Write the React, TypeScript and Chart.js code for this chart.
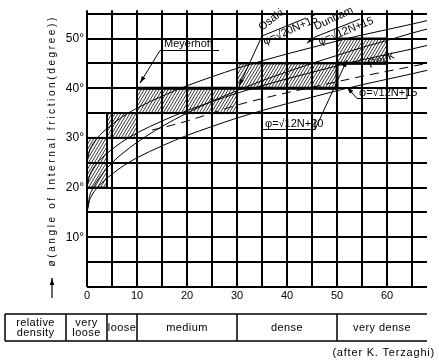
import React, { useEffect, useRef } from "react";
import { Chart, registerables } from "chart.js";

Chart.register(...registerables);

// ---- data ----
const N_SAMPLES = [0, 0.5, 1, 2, 3, 5, 7, 10, 15, 20, 25, 30, 35, 40, 45, 50, 55, 60, 65, 68];
const OSAKI_PHI = [15, 18.2, 19.5, 21.3, 22.7, 25.0, 26.8, 29.1, 32.3, 35.0, 37.4, 39.5, 41.5, 43.3, 45.0, 46.6, 48.2, 49.6, 51.1, 51.9];
const DUNHAM25_PHI = [25, 27.4, 28.5, 29.9, 31.0, 32.7, 34.2, 36.0, 38.4, 40.5, 42.3, 44.0, 45.5, 46.9, 48.2, 49.5, 50.7, 51.8, 52.9, 53.6];
const DUNHAM20_PHI = [20, 22.4, 23.5, 24.9, 26.0, 27.7, 29.2, 31.0, 33.4, 35.5, 37.3, 39.0, 40.5, 41.9, 43.2, 44.5, 45.7, 46.8, 47.9, 48.6];
const DUNHAM15_PHI = [15, 17.4, 18.5, 19.9, 21.0, 22.7, 24.2, 26.0, 28.4, 30.5, 32.3, 34.0, 35.5, 36.9, 38.2, 39.5, 40.7, 41.8, 42.9, 43.6];
const PECK_N = [13, 16, 20, 25, 30, 35, 40, 45, 50, 55, 60, 65, 68];
const PECK_PHI = [31.6, 32.3, 33.4, 35.0, 36.6, 37.9, 39.1, 40.2, 41.3, 42.4, 43.4, 44.4, 45.0];

const MEYERHOF_N_FROM = [0, 4, 10, 30, 50];
const MEYERHOF_N_TO = [4, 10, 30, 50, 60];
const MEYERHOF_PHI_LOW = [20, 30, 35, 40, 45];
const MEYERHOF_PHI_HIGH = [30, 35, 40, 45, 50];
const MEYERHOF_STEP_N = [10, 50, 50, 60];
const MEYERHOF_STEP_PHI = [40, 40, 45, 45];

const X_LABELED_TICKS = [0, 10, 20, 30, 40, 50, 60];
const Y_LABELED_TICKS = [10, 20, 30, 40, 50];

const DENSITY_HEADER = ["relative", "density"];
const DENSITY_LABELS = [["very", "loose"], ["loose"], ["medium"], ["dense"], ["very dense"]];
const DENSITY_BOUNDS = [4, 10, 30, 50];

const Y_TITLE = "ø(angle of Internal friction(degree))";
const SOURCE_NOTE = "(after K. Terzaghi)";

const FONT = "'Liberation Sans', 'DejaVu Sans', sans-serif";

const pts = (xs: number[], ys: number[]) => xs.map((x, i) => ({ x, y: ys[i] }));

function makeHatch(ctx: CanvasRenderingContext2D) {
  const w = 3, h = 5;
  const c = document.createElement("canvas");
  c.width = w;
  c.height = h;
  const g = c.getContext("2d")!;
  g.strokeStyle = "#000";
  g.lineWidth = 0.8;
  g.beginPath();
  for (let k = -1; k <= 1; k++) {
    g.moveTo(k * w, h);
    g.lineTo(k * w + w, 0);
  }
  g.stroke();
  return ctx.createPattern(c, "repeat");
}

function arrow(ctx: CanvasRenderingContext2D, x0: number, y0: number, x1: number, y1: number) {
  ctx.beginPath();
  ctx.moveTo(x0, y0);
  ctx.lineTo(x1, y1);
  ctx.stroke();
  const a = Math.atan2(y1 - y0, x1 - x0);
  const L = 7, W = 2.2;
  ctx.beginPath();
  ctx.moveTo(x1, y1);
  ctx.lineTo(x1 - L * Math.cos(a) + W * Math.sin(a), y1 - L * Math.sin(a) - W * Math.cos(a));
  ctx.lineTo(x1 - L * Math.cos(a) - W * Math.sin(a), y1 - L * Math.sin(a) + W * Math.cos(a));
  ctx.closePath();
  ctx.fill();
}

function rotText(ctx: CanvasRenderingContext2D, text: string, x: number, y: number, deg: number) {
  ctx.save();
  ctx.translate(x, y);
  ctx.rotate((deg * Math.PI) / 180);
  ctx.fillText(text, 0, 0);
  ctx.restore();
}

const meyerhofPlugin = {
  id: "meyerhofRanges",
  beforeDatasetsDraw(chart: any) {
    const { ctx, scales } = chart;
    const xs = scales.x, ys = scales.y;
    const pat = makeHatch(ctx);
    ctx.save();
    for (let i = 0; i < MEYERHOF_N_FROM.length; i++) {
      const x0 = xs.getPixelForValue(MEYERHOF_N_FROM[i]);
      const x1 = xs.getPixelForValue(MEYERHOF_N_TO[i]);
      const y0 = ys.getPixelForValue(MEYERHOF_PHI_HIGH[i]);
      const y1 = ys.getPixelForValue(MEYERHOF_PHI_LOW[i]);
      ctx.fillStyle = pat;
      ctx.fillRect(x0, y0, x1 - x0, y1 - y0);
      ctx.strokeStyle = "#000";
      ctx.lineWidth = 2;
      ctx.strokeRect(x0, y0, x1 - x0, y1 - y0);
    }
    ctx.restore();
  },
};

const decorPlugin = {
  id: "decor",
  afterDraw(chart: any) {
    const { ctx, scales } = chart;
    const xs = scales.x;
    ctx.save();
    ctx.fillStyle = "#000";
    ctx.strokeStyle = "#000";
    ctx.lineWidth = 1;
    ctx.textBaseline = "alphabetic";
    ctx.textAlign = "left";
    ctx.font = `11px ${FONT}`;

    // Meyerhof label
    ctx.fillText("Meyerhoff", 164, 47);
    ctx.beginPath();
    ctx.moveTo(160, 50.5);
    ctx.lineTo(219, 50.5);
    ctx.stroke();
    arrow(ctx, 160, 50.5, 140, 83);

    // Osaki label
    rotText(ctx, "Osaki", 262, 31, -38);
    ctx.beginPath();
    ctx.moveTo(262, 36);
    ctx.lineTo(306, 18);
    ctx.stroke();
    rotText(ctx, "φ=√20N+15", 265, 45, -24);
    arrow(ctx, 262, 36, 239, 86);

    // Dunham label
    rotText(ctx, "Dunham", 316, 30, -25);
    ctx.beginPath();
    ctx.moveTo(315, 37);
    ctx.lineTo(360, 19);
    ctx.stroke();
    rotText(ctx, "φ=√12N+15", 320, 45, -22);
    arrow(ctx, 315, 37, 307, 43);

    // Peck
    ctx.font = `12px ${FONT}`;
    rotText(ctx, "Peck", 370, 68, -22);
    ctx.font = `11px ${FONT}`;

    // phi = sqrt(12N)+15 flag
    ctx.fillText("φ=√12N+15", 359, 96);
    ctx.beginPath();
    ctx.moveTo(357, 98.5);
    ctx.lineTo(407, 98.5);
    ctx.lineTo(407, 88);
    ctx.stroke();
    arrow(ctx, 357, 98.5, 347, 87);

    // phi = sqrt(12N)+20 flag
    ctx.fillText("φ=√12N+20", 265, 127);
    ctx.beginPath();
    ctx.moveTo(262, 119);
    ctx.lineTo(262, 129.5);
    ctx.lineTo(315, 129.5);
    ctx.lineTo(315, 119);
    ctx.stroke();
    arrow(ctx, 315, 129.5, 347, 60);

    // y-axis title (rotated, widely spaced letters)
    ctx.save();
    ctx.translate(55, 142);
    ctx.rotate(-Math.PI / 2);
    ctx.textAlign = "left";
    ctx.font = `10px ${FONT}`;
    const plain = ctx.measureText(Y_TITLE).width;
    const spacing = (249 - plain) / (Y_TITLE.length - 1);
    (ctx as any).letterSpacing = `${spacing.toFixed(2)}px`;
    ctx.fillText(Y_TITLE, -124.5, 0);
    ctx.restore();
    // up arrow
    ctx.lineWidth = 1.2;
    arrow(ctx, 52, 298, 52, 278);

    // density table
    const top = 314, bot = 341, left = 5, right = 427;
    ctx.lineWidth = 1.5;
    ctx.beginPath();
    ctx.moveTo(left, top);
    ctx.lineTo(right, top);
    ctx.moveTo(left, bot);
    ctx.lineTo(right, bot);
    ctx.moveTo(left, top);
    ctx.lineTo(left, bot);
    ctx.moveTo(66, top);
    ctx.lineTo(66, bot);
    const colX = [66, ...DENSITY_BOUNDS.map((b) => xs.getPixelForValue(b)), right];
    for (const b of DENSITY_BOUNDS) {
      const px = Math.round(xs.getPixelForValue(b));
      ctx.moveTo(px, top);
      ctx.lineTo(px, bot);
    }
    ctx.stroke();
    ctx.textAlign = "center";
    ctx.textBaseline = "middle";
    ctx.font = `11px ${FONT}`;
    (ctx as any).letterSpacing = "0.4px";
    const mid = (top + bot) / 2;
    ctx.fillText(DENSITY_HEADER[0], (left + 66) / 2, mid - 5);
    ctx.fillText(DENSITY_HEADER[1], (left + 66) / 2, mid + 5);
    DENSITY_LABELS.forEach((lines, i) => {
      const cx = (colX[i] + colX[i + 1]) / 2;
      if (lines.length === 2) {
        ctx.fillText(lines[0], cx, mid - 5);
        ctx.fillText(lines[1], cx, mid + 5);
      } else {
        ctx.fillText(lines[0], cx, mid);
      }
    });

    ctx.textAlign = "right";
    (ctx as any).letterSpacing = "0.8px";
    ctx.fillText(SOURCE_NOTE, 435, 353);
    ctx.restore();
  },
};

export default function App() {
  const ref = useRef<HTMLCanvasElement | null>(null);

  useEffect(() => {
    document.body.style.margin = "0";
    const canvas = ref.current!;
    const black = "#000";
    const curve = (label: string, data: any, dash: number[] = []) => ({
      label,
      data,
      borderColor: black,
      borderWidth: 1,
      borderDash: dash,
      pointRadius: 0,
      tension: 0.4,
      cubicInterpolationMode: "monotone" as const,
      fill: false,
    });
    const chart = new Chart(canvas, {
      type: "line",
      data: {
        datasets: [
          curve("Osaki", pts(N_SAMPLES, OSAKI_PHI)),
          curve("Dunham +25", pts(N_SAMPLES, DUNHAM25_PHI)),
          curve("φ=√12N+20", pts(N_SAMPLES, DUNHAM20_PHI)),
          curve("φ=√12N+15", pts(N_SAMPLES, DUNHAM15_PHI)),
          curve("Peck", pts(PECK_N, PECK_PHI), [9, 6]),
          {
            label: "Meyerhof",
            data: pts(MEYERHOF_STEP_N, MEYERHOF_STEP_PHI),
            borderColor: black,
            borderWidth: 3,
            pointRadius: 0,
            tension: 0,
            fill: false,
          },
        ],
      },
      options: {
        responsive: false,
        animation: false,
        events: [],
        layout: { padding: { left: 0, top: 5, right: 12, bottom: 0 } },
        plugins: { legend: { display: false }, tooltip: { enabled: false }, title: { display: false } },
        scales: {
          x: {
            type: "linear",
            min: 0,
            max: 68,
            border: { display: false },
            grid: { color: black, lineWidth: 2, drawTicks: false },
            ticks: {
              stepSize: 5,
              autoSkip: false,
              includeBounds: false,
              maxRotation: 0,
              padding: 2,
              color: black,
              font: { family: FONT, size: 11 },
              callback: (v: any) => (X_LABELED_TICKS.includes(Number(v)) ? String(v) : ""),
            },
            afterFit: (s: any) => {
              s.height = 76;
            },
          },
          y: {
            type: "linear",
            min: 0,
            max: 55.7,
            border: { display: false },
            grid: { color: black, lineWidth: 2, drawTicks: false },
            ticks: {
              stepSize: 5,
              autoSkip: false,
              includeBounds: false,
              padding: 3,
              color: black,
              font: { family: FONT, size: 12 },
              callback: (v: any) => (Y_LABELED_TICKS.includes(Number(v)) ? `${v}°` : ""),
            },
            afterFit: (s: any) => {
              s.width = 87;
            },
          },
        },
      },
      plugins: [meyerhofPlugin, decorPlugin],
    });
    return () => chart.destroy();
  }, []);

  return (
    <div style={{ width: 439, height: 363, background: "#fff" }}>
      <canvas ref={ref} width={439} height={363} />
    </div>
  );
}
